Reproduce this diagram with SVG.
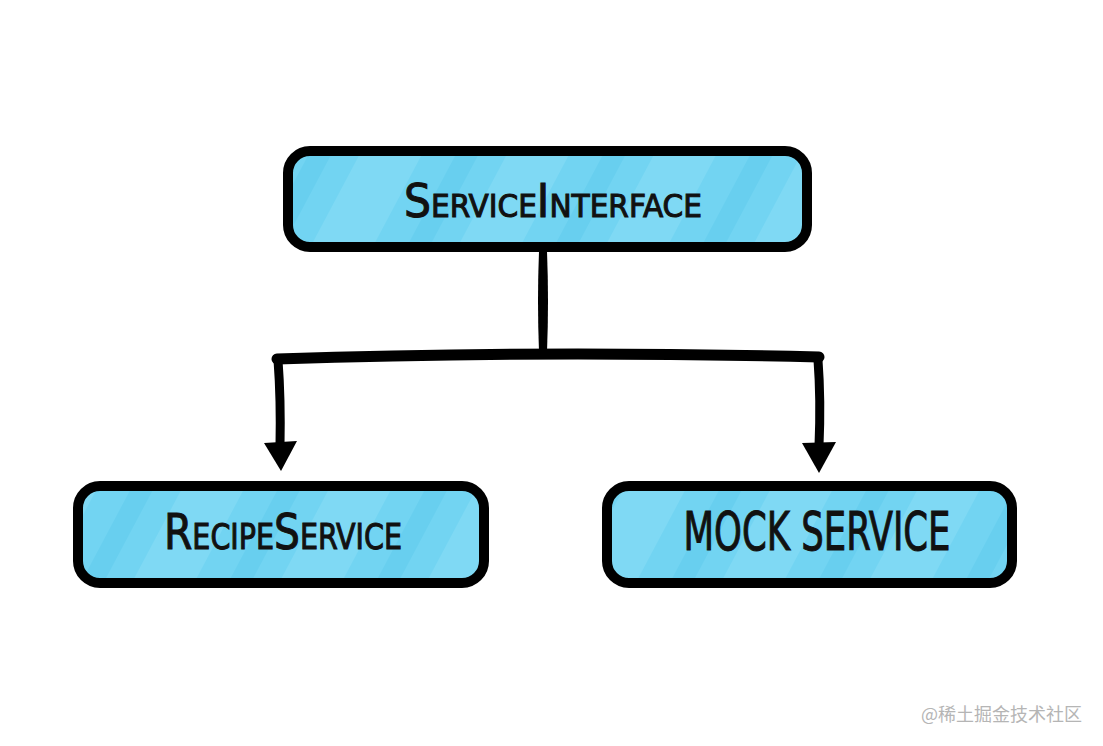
<svg xmlns="http://www.w3.org/2000/svg" width="1103" height="746" viewBox="0 0 1103 746">
<style>
.box{fill:url(#stripes);stroke:#000;stroke-width:10}
.lbl{font-family:"Liberation Sans Narrow","DejaVu Sans Condensed","Liberation Sans",sans-serif;fill:#111;stroke:#111;stroke-width:1;text-anchor:middle;font-weight:normal}
.line{fill:none;stroke:#000;stroke-linecap:round;stroke-linejoin:round}
.head{fill:#000}
.wm{font-family:"Noto Sans CJK SC","Noto Sans",sans-serif;fill:#b5b5b5;font-size:18px}
</style>
<defs>
<pattern id="stripes" patternUnits="userSpaceOnUse" width="130" height="130" patternTransform="rotate(28)">
<rect width="130" height="130" fill="#72d4f2"/>
<rect x="0" y="0" width="55" height="130" fill="#7fd9f4"/>
<rect x="85" y="0" width="20" height="130" fill="#68cfef"/>
</pattern>
</defs>
<rect width="1103" height="746" fill="#fff"/>
<g id="connectors">
<path class="head" d="M539,252 L547,252 Q549,300 547,352 L539,352 Q537,300 539,252 Z"/>
<path class="line" stroke-width="11" d="M277,359 Q540,350 819,357"/>
<path class="line" stroke-width="9" d="M278,360 Q281,400 280,446"/>
<path class="line" stroke-width="9" d="M818,360 Q821,400 819,446"/>
<polygon class="head" points="264,443 297,441 281,471"/>
<polygon class="head" points="802,443 836,442 819,473"/>
</g>
<g id="node-service-interface">
<rect class="box" x="288" y="151" width="519" height="96" rx="22"/>
<text class="lbl" x="553" y="217" font-size="46" style="font-variant:small-caps" textLength="298" lengthAdjust="spacingAndGlyphs">ServiceInterface</text>
</g>
<g id="node-recipe-service">
<rect class="box" x="78" y="486" width="406" height="97" rx="22"/>
<text class="lbl" x="283" y="549" font-size="50" style="font-variant:small-caps" textLength="238" lengthAdjust="spacingAndGlyphs">RecipeService</text>
</g>
<g id="node-mock-service">
<rect class="box" x="607" y="486" width="405" height="97" rx="22"/>
<text class="lbl" x="817" y="550" font-size="54" textLength="267" lengthAdjust="spacingAndGlyphs">MOCK SERVICE</text>
</g>
<text class="wm" x="921" y="721">@稀土掘金技术社区</text>
</svg>
